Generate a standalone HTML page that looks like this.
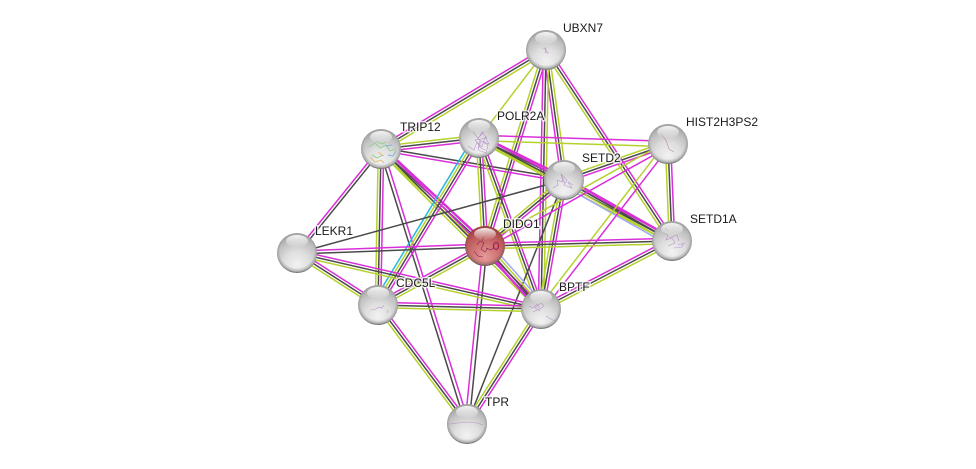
<!DOCTYPE html>
<html><head><meta charset="utf-8"><style>
html,body{margin:0;padding:0;background:#fff;width:976px;height:469px;overflow:hidden}
svg{display:block}
line{stroke-width:1.5;fill:none}
.m{stroke:#d92fd9}.k{stroke:#4a4a4a}.y{stroke:#b5d22c}.c{stroke:#25b8dc}.b{stroke:#9fa8f0}
.t{stroke-width:2.4}
text{font-family:"Liberation Sans",sans-serif;font-size:12px;fill:#1a1a1a}
.h{stroke:#fff;stroke-width:3;stroke-opacity:.75;fill:#fff}
.s{fill:none;stroke-width:.6;stroke:#a878c4;opacity:.7}
</style></head><body>
<svg width="976" height="469" viewBox="0 0 976 469" xmlns="http://www.w3.org/2000/svg">
<defs>
<radialGradient id="g" cx="50%" cy="78%" r="72%"><stop offset="0" stop-color="#f2f2f2"/><stop offset=".45" stop-color="#dedede"/><stop offset=".8" stop-color="#c0c0c0"/><stop offset="1" stop-color="#a6a6a6"/></radialGradient>
<radialGradient id="r" cx="50%" cy="78%" r="72%"><stop offset="0" stop-color="#e69a9a"/><stop offset=".45" stop-color="#cf7474"/><stop offset=".8" stop-color="#b85656"/><stop offset="1" stop-color="#a04040"/></radialGradient>
<radialGradient id="rim" cx="50%" cy="45%" r="55%"><stop offset=".78" stop-color="#555" stop-opacity="0"/><stop offset=".92" stop-color="#555" stop-opacity=".35"/><stop offset="1" stop-color="#444" stop-opacity=".85"/></radialGradient>
<linearGradient id="hl" x1="0" y1="0" x2="0" y2="1"><stop offset="0" stop-color="#fff" stop-opacity=".9"/><stop offset="1" stop-color="#fff" stop-opacity=".05"/></linearGradient>
</defs>
<g>
<line class="m" x1="546" y1="50" x2="381" y2="149" transform="translate(-1.4 -2.3)"/><line class="k" x1="546" y1="50" x2="381" y2="149"/><line class="y" x1="546" y1="50" x2="381" y2="149" transform="translate(1.4 2.3)"/>
<line class="y" x1="546" y1="50" x2="479" y2="138"/>
<line class="m" x1="546" y1="50" x2="564" y2="180" transform="translate(-2.7 .4)"/><line class="k" x1="546" y1="50" x2="564" y2="180"/><line class="y" x1="546" y1="50" x2="564" y2="180" transform="translate(2.7 -.4)"/>
<line class="m" x1="546" y1="50" x2="485" y2="246" transform="translate(2.6 .8)"/><line class="k" x1="546" y1="50" x2="485" y2="246"/><line class="y" x1="546" y1="50" x2="485" y2="246" transform="translate(-2.6 -.8)"/>
<line class="m" x1="546" y1="50" x2="541" y2="309" transform="translate(-2.7 0)"/><line class="k" x1="546" y1="50" x2="541" y2="309"/><line class="y" x1="546" y1="50" x2="541" y2="309" transform="translate(2.7 0)"/>
<line class="m" x1="546" y1="50" x2="672" y2="241" transform="translate(2.25 -1.5)"/><line class="k" x1="546" y1="50" x2="672" y2="241"/><line class="y" x1="546" y1="50" x2="672" y2="241" transform="translate(-2.25 1.5)"/>
<line class="m" x1="381" y1="149" x2="479" y2="138" transform="translate(.3 2.7)"/><line class="k" x1="381" y1="149" x2="479" y2="138"/><line class="y" x1="381" y1="149" x2="479" y2="138" transform="translate(-.3 -2.7)"/>
<line class="m" x1="381" y1="149" x2="564" y2="180" transform="translate(-.3 1.6)"/><line class="k" x1="381" y1="149" x2="564" y2="180" transform="translate(.2 -1.2)"/>
<line class="m t" x1="381" y1="149" x2="485" y2="246" transform="translate(1.84 -1.97)"/><line class="k" x1="381" y1="149" x2="485" y2="246"/><line class="y" x1="381" y1="149" x2="485" y2="246" transform="translate(-1.84 1.97)"/>
<line class="m" x1="381" y1="149" x2="541" y2="309" transform="translate(1.9 -1.9)"/><line class="k" x1="381" y1="149" x2="541" y2="309"/><line class="y" x1="381" y1="149" x2="541" y2="309" transform="translate(-1.9 1.9)"/>
<line class="m" x1="381" y1="149" x2="297" y2="253" transform="translate(-1.2 -1)"/><line class="k" x1="381" y1="149" x2="297" y2="253" transform="translate(1 .8)"/>
<line class="m" x1="381" y1="149" x2="378" y2="305" transform="translate(2.7 0)"/><line class="k" x1="381" y1="149" x2="378" y2="305"/><line class="y" x1="381" y1="149" x2="378" y2="305" transform="translate(-2.7 0)"/>
<line class="m" x1="381" y1="149" x2="467" y2="424" transform="translate(2 -.6)"/><line class="k" x1="381" y1="149" x2="467" y2="424" transform="translate(-1.4 .4)"/>
<line class="m t" x1="479" y1="138" x2="564" y2="180" transform="translate(1.2 -2.4)"/><line class="k" x1="479" y1="138" x2="564" y2="180"/><line class="y t" x1="479" y1="138" x2="564" y2="180" transform="translate(-1.2 2.4)"/>
<line class="m" x1="479" y1="138" x2="668" y2="144" transform="translate(0 -2.7)"/><line class="y" x1="479" y1="138" x2="668" y2="144" transform="translate(0 2.7)"/>
<line class="m" x1="479" y1="138" x2="672" y2="241" transform="translate(1.27 -2.4)"/><line class="k" x1="479" y1="138" x2="672" y2="241"/><line class="y" x1="479" y1="138" x2="672" y2="241" transform="translate(-1.27 2.4)"/>
<line class="m" x1="479" y1="138" x2="485" y2="246" transform="translate(2.7 0)"/><line class="k" x1="479" y1="138" x2="485" y2="246"/><line class="y" x1="479" y1="138" x2="485" y2="246" transform="translate(-2.7 0)"/>
<line class="m" x1="479" y1="138" x2="541" y2="309" transform="translate(2.5 -.9)"/><line class="k" x1="479" y1="138" x2="541" y2="309"/><line class="y" x1="479" y1="138" x2="541" y2="309" transform="translate(-2.5 .9)"/>
<line class="m" x1="479" y1="138" x2="378" y2="305" transform="translate(2.3 1.4)"/><line class="k" x1="479" y1="138" x2="378" y2="305"/><line class="y" x1="479" y1="138" x2="378" y2="305" transform="translate(-2.3 -1.4)"/><line class="c" x1="479" y1="138" x2="378" y2="305" transform="translate(-4.6 -2.8)"/>
<line class="m" x1="564" y1="180" x2="668" y2="144" transform="translate(.9 2.55)"/><line class="k" x1="564" y1="180" x2="668" y2="144"/><line class="y" x1="564" y1="180" x2="668" y2="144" transform="translate(-.9 -2.55)"/>
<line class="m t" x1="564" y1="180" x2="672" y2="241" transform="translate(1.2 -2.35)"/><line class="k" x1="564" y1="180" x2="672" y2="241"/><line class="y" x1="564" y1="180" x2="672" y2="241" transform="translate(-1.2 2.35)"/><line class="b" x1="564" y1="180" x2="672" y2="241" transform="translate(-2.4 4.7)"/>
<line class="m" x1="564" y1="180" x2="485" y2="246" transform="translate(2.07 1.73)"/><line class="k" x1="564" y1="180" x2="485" y2="246"/><line class="y" x1="564" y1="180" x2="485" y2="246" transform="translate(-2.07 -1.73)"/>
<line class="m" x1="564" y1="180" x2="541" y2="309" transform="translate(2.66 .47)"/><line class="k" x1="564" y1="180" x2="541" y2="309"/><line class="y" x1="564" y1="180" x2="541" y2="309" transform="translate(-2.66 -.47)"/>
<line class="k" x1="564" y1="180" x2="297" y2="253"/>
<line class="k" x1="564" y1="180" x2="467" y2="424"/>
<line class="m" x1="668" y1="144" x2="672" y2="241" transform="translate(2.7 -.1)"/><line class="k" x1="668" y1="144" x2="672" y2="241"/><line class="y" x1="668" y1="144" x2="672" y2="241" transform="translate(-2.7 .1)"/>
<line class="m" x1="668" y1="144" x2="485" y2="246" transform="translate(1.3 2.35)"/><line class="y" x1="668" y1="144" x2="485" y2="246" transform="translate(-1.3 -2.35)"/>
<line class="m" x1="668" y1="144" x2="541" y2="309" transform="translate(2.1 1.6)"/><line class="y" x1="668" y1="144" x2="541" y2="309" transform="translate(-2.1 -1.6)"/>
<line class="m" x1="672" y1="241" x2="485" y2="246" transform="translate(0 -2.7)"/><line class="k" x1="672" y1="241" x2="485" y2="246"/><line class="y" x1="672" y1="241" x2="485" y2="246" transform="translate(0 2.7)"/>
<line class="m" x1="672" y1="241" x2="541" y2="309" transform="translate(-1.25 -2.4)"/><line class="k" x1="672" y1="241" x2="541" y2="309"/><line class="y" x1="672" y1="241" x2="541" y2="309" transform="translate(1.25 2.4)"/>
<line class="m t" x1="485" y1="246" x2="541" y2="309" transform="translate(-1.8 2)"/><line class="k" x1="485" y1="246" x2="541" y2="309"/><line class="y" x1="485" y1="246" x2="541" y2="309" transform="translate(1.8 -2)"/><line class="b" x1="485" y1="246" x2="541" y2="309" transform="translate(3.6 -4)"/>
<line class="m" x1="485" y1="246" x2="297" y2="253" transform="translate(0 -2)"/><line class="k" x1="485" y1="246" x2="297" y2="253" transform="translate(0 1)"/>
<line class="m" x1="485" y1="246" x2="378" y2="305" transform="translate(-1.3 -2.36)"/><line class="k" x1="485" y1="246" x2="378" y2="305"/><line class="y" x1="485" y1="246" x2="378" y2="305" transform="translate(1.3 2.36)"/>
<line class="m" x1="485" y1="246" x2="467" y2="424" transform="translate(-2 -.2)"/><line class="k" x1="485" y1="246" x2="467" y2="424" transform="translate(2 .2)"/>
<line class="m" x1="541" y1="309" x2="297" y2="253" transform="translate(.6 -2.6)"/><line class="k" x1="541" y1="309" x2="297" y2="253"/><line class="y" x1="541" y1="309" x2="297" y2="253" transform="translate(-.6 2.6)"/>
<line class="m" x1="541" y1="309" x2="378" y2="305" transform="translate(0 -2.7)"/><line class="k" x1="541" y1="309" x2="378" y2="305"/><line class="y" x1="541" y1="309" x2="378" y2="305" transform="translate(0 2.7)"/>
<line class="m" x1="541" y1="309" x2="467" y2="424" transform="translate(2.27 1.46)"/><line class="k" x1="541" y1="309" x2="467" y2="424"/><line class="y" x1="541" y1="309" x2="467" y2="424" transform="translate(-2.27 -1.46)"/>
<line class="m" x1="297" y1="253" x2="378" y2="305" transform="translate(1.4 -2.3)"/><line class="k" x1="297" y1="253" x2="378" y2="305"/><line class="y" x1="297" y1="253" x2="378" y2="305" transform="translate(-1.4 2.3)"/>
<line class="m" x1="378" y1="305" x2="467" y2="424" transform="translate(2.15 -1.6)"/><line class="k" x1="378" y1="305" x2="467" y2="424"/><line class="y" x1="378" y1="305" x2="467" y2="424" transform="translate(-2.15 1.6)"/>
</g>

<g fill="url(#g)">
<circle cx="546" cy="50" r="20"/><circle cx="381" cy="149" r="20"/><circle cx="479" cy="138" r="20"/><circle cx="564" cy="180" r="20"/><circle cx="668" cy="144" r="20"/><circle cx="672" cy="241" r="20"/><circle cx="541" cy="309" r="20"/><circle cx="297" cy="253" r="20"/><circle cx="378" cy="305" r="20"/><circle cx="467" cy="424" r="20"/>
<circle cx="485" cy="246" r="20" fill="url(#r)"/>
</g>

<g class="structures">
<path class="s" d="M543 48l3 1-1 3 3 1-3-4 1-2"/>
<path d="M369 147l6-4 5 5 6-3 4 6 6-2M372 155l5 3 6-3M376 141l6 3 4-2" fill="none" stroke="#8ccc8c" stroke-width=".9"/>
<path d="M370 157l5 5 6-2 3 3M378 152l6 4" fill="none" stroke="#e6b878" stroke-width=".9"/>
<path d="M388 155l5 1 3-5M386 146l6-1" fill="none" stroke="#7ab4e0" stroke-width=".9"/>
<path class="s" d="M468 146l6 4 3-8 5 5 3-10 4 7-8-3-3 9 8 3 2-8-10-6 4-7 5 6-12 2 6 8 4 2M473 132l5 6 6-6M478 149l2-9"/>
<path class="s" d="M553 188l5-3-1-5 6 2-2-8 6 6-3 5 8 3-4-6 5 3M561 174l4 10"/>
<path d="M660 133l6 7 3 9 5 3" fill="none" stroke="#c090a4" stroke-width=".6"/>
<path class="s" d="M663 233l5 2-2 5 6-2 3 5-7 3M669 238l8-3 2 6M674 248l8-1 1-4M678 245l7-2M665 228l3 3"/>
<path class="s" d="M529 306l4 2 4-4 3 5 4-3-3-3-6 5 5 3M546 316l5 3 4 2M533 312l6-3"/>
<path class="s" d="M371 310l5-1 3-2 3 1 2-3M387 313l1-3"/>
<path class="s" d="M450 424l8-1 9-1 10 1 6 2"/>
<path d="M477 245l3-4 4 2-3 6 4 3 3-4M486 248l5 2 3-3M474 251l4 5 5 1M482 241l2-4" fill="none" stroke="#8c1c4c" stroke-width=".6"/>
<ellipse cx="496" cy="246" rx="2.5" ry="3.5" fill="none" stroke="#a01850" stroke-width="1.1"/>
</g>

<g fill="url(#rim)">
<circle cx="546" cy="50" r="20"/><circle cx="381" cy="149" r="20"/><circle cx="479" cy="138" r="20"/><circle cx="564" cy="180" r="20"/><circle cx="668" cy="144" r="20"/><circle cx="672" cy="241" r="20"/><circle cx="485" cy="246" r="20"/><circle cx="541" cy="309" r="20"/><circle cx="297" cy="253" r="20"/><circle cx="378" cy="305" r="20"/><circle cx="467" cy="424" r="20"/>
</g>

<g fill="url(#hl)">
<ellipse cx="546" cy="38" rx="11" ry="6"/><ellipse cx="381" cy="137" rx="11" ry="6"/><ellipse cx="479" cy="126" rx="11" ry="6"/><ellipse cx="564" cy="168" rx="11" ry="6"/><ellipse cx="668" cy="132" rx="11" ry="6"/><ellipse cx="672" cy="229" rx="11" ry="6"/><ellipse cx="485" cy="234" rx="11" ry="6"/><ellipse cx="541" cy="297" rx="11" ry="6"/><ellipse cx="297" cy="241" rx="11" ry="6"/><ellipse cx="378" cy="293" rx="11" ry="6"/><ellipse cx="467" cy="412" rx="11" ry="6"/>
</g>

<g>
<text class="h" x="563" y="32">UBXN7</text><text x="563" y="32">UBXN7</text>
<text class="h" x="400" y="131">TRIP12</text><text x="400" y="131">TRIP12</text>
<text class="h" x="497" y="120">POLR2A</text><text x="497" y="120">POLR2A</text>
<text class="h" x="582" y="162">SETD2</text><text x="582" y="162">SETD2</text>
<text class="h" x="686" y="126">HIST2H3PS2</text><text x="686" y="126">HIST2H3PS2</text>
<text class="h" x="690" y="223">SETD1A</text><text x="690" y="223">SETD1A</text>
<text class="h" x="503" y="228">DIDO1</text><text x="503" y="228">DIDO1</text>
<text class="h" x="559" y="291">BPTF</text><text x="559" y="291">BPTF</text>
<text class="h" x="315" y="235">LEKR1</text><text x="315" y="235">LEKR1</text>
<text class="h" x="396" y="287">CDC5L</text><text x="396" y="287">CDC5L</text>
<text class="h" x="485" y="406">TPR</text><text x="485" y="406">TPR</text>
</g>
</svg>
</body></html>
